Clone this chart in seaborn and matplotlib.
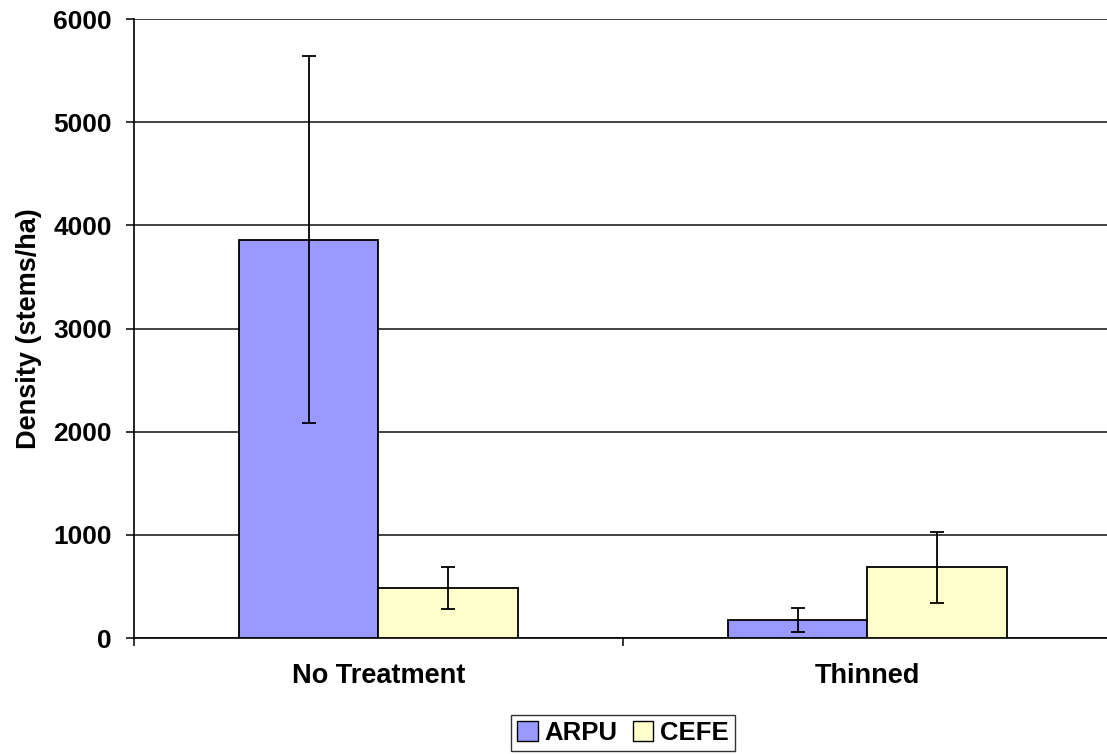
import matplotlib
matplotlib.use("Agg")
import matplotlib.pyplot as plt
from matplotlib.ticker import FixedLocator
import seaborn as sns
import pandas as pd

treatments = ["No Treatment", "Thinned"]
species = ["ARPU", "CEFE"]
arpu_density = [3860, 175]
cefe_density = [485, 685]
arpu_err = [1780, 120]
cefe_err = [205, 344]
yticks = [0, 1000, 2000, 3000, 4000, 5000, 6000]
colors = ["#9999FF", "#FFFFCC"]

df = pd.DataFrame({
    "Treatment": treatments * 2,
    "Species": [species[0]] * 2 + [species[1]] * 2,
    "Density": arpu_density + cefe_density,
})
errs = {"ARPU": arpu_err, "CEFE": cefe_err}

sns.set_style("white")
plt.rcParams["font.family"] = ["Liberation Sans", "DejaVu Sans"]
plt.rcParams["font.weight"] = "bold"
plt.rcParams["text.color"] = "black"
plt.rcParams["axes.labelcolor"] = "black"
plt.rcParams["xtick.color"] = "black"
plt.rcParams["ytick.color"] = "black"

fig = plt.figure(figsize=(11.07, 7.54), dpi=100)
ax = fig.add_axes([134 / 1107, 1 - 638 / 754, 973 / 1107, 619 / 754])

sns.barplot(data=df, x="Treatment", y="Density", hue="Species",
            palette=colors, saturation=1, width=0.57, errorbar=None,
            edgecolor="black", linewidth=1.3, ax=ax, zorder=3)

# error bars on top of each bar
for cont, sp in zip(ax.containers, species):
    for bar, e in zip(cont, errs[sp]):
        xc = bar.get_x() + bar.get_width() / 2
        ax.errorbar(xc, bar.get_height(), yerr=e, fmt="none", ecolor="black",
                    elinewidth=1.3, capsize=5, capthick=1.3, zorder=4)

ax.set_ylim(0, 6000)
ax.set_xlim(-0.5, 1.49)
ax.set_yticks(yticks)
ax.yaxis.grid(True, color="#111111", linewidth=1.1, zorder=0)
ax.set_axisbelow(True)
for s in ["top", "right"]:
    ax.spines[s].set_visible(False)
ax.spines["left"].set_color("black")
ax.spines["bottom"].set_color("black")
ax.spines["left"].set_linewidth(1.2)
ax.spines["bottom"].set_linewidth(1.2)

ax.tick_params(axis="y", labelsize=19, length=6, width=1.1, color="black",
               labelcolor="black", direction="out", left=True, pad=10)
ax.tick_params(axis="x", which="major", labelsize=19.5, length=0, pad=18,
               labelcolor="black")
ax.xaxis.set_minor_locator(FixedLocator([-0.5, 0.5]))
ax.tick_params(axis="x", which="minor", length=6, width=1.1, color="black",
               direction="out", bottom=True)
for lbl in ax.get_xticklabels() + ax.get_yticklabels():
    lbl.set_fontweight("bold")

ax.set_xlabel("")
ax.set_ylabel("Density (stems/ha)", fontsize=19.5, fontweight="bold", color="black")
ax.yaxis.set_label_coords(-0.095, 0.5)

ax.get_legend().remove()
handles = [plt.Rectangle((0, 0), 1, 1, facecolor=c, edgecolor="black", linewidth=1)
           for c in colors]
leg = fig.legend(handles, species, loc="center", bbox_to_anchor=(623 / 1107, 1 - 733 / 754),
                 ncol=2, frameon=True, fancybox=False, edgecolor="black",
                 prop={"size": 18.5, "weight": "bold"}, handlelength=0.8,
                 handleheight=0.8, handletextpad=0.25, columnspacing=0.6,
                 borderpad=0.25, borderaxespad=0)
leg.get_frame().set_linewidth(1.0)

fig.savefig("out.png", dpi=100)
